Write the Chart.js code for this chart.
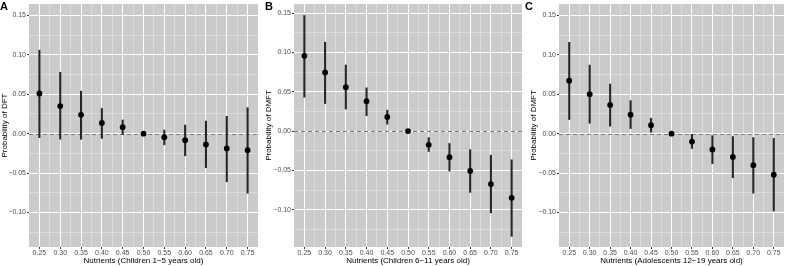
<!DOCTYPE html>
<html><head><meta charset="utf-8">
<script src="https://cdn.jsdelivr.net/npm/chart.js@4.4.1/dist/chart.umd.min.js"></script>
<style>
html,body{margin:0;padding:0;background:#fff;}
body{width:788px;height:266px;position:relative;overflow:hidden;font-family:"Liberation Sans",Arial,sans-serif;}
canvas{position:absolute;top:0;}
.tag{position:absolute;top:0;font:bold 11px "Liberation Sans",Arial,sans-serif;line-height:12px;color:#000;}
</style></head><body>
<canvas id="cA" width="262" height="266" style="left:0"></canvas>
<canvas id="cB" width="262" height="266" style="left:264px"></canvas>
<canvas id="cC" width="259" height="266" style="left:529px"></canvas>
<div class="tag" style="left:0">A</div>
<div class="tag" style="left:265px">B</div>
<div class="tag" style="left:525px">C</div>
<script>
// ---- data ----
const nutrients = [0.25,0.30,0.35,0.40,0.45,0.50,0.55,0.60,0.65,0.70,0.75];
const xTickLabels = [0.25,0.30,0.35,0.40,0.45,0.50,0.55,0.60,0.65,0.70,0.75];
const yTickLabels = [-0.10,-0.05,0.00,0.05,0.10,0.15];

const estA  = [0.051,0.035,0.024,0.0137,0.0083,0,-0.0046,-0.0083,-0.0137,-0.0187,-0.021];
const lowA  = [-0.005,-0.007,-0.007,-0.006,-0.001,0,-0.014,-0.028,-0.043,-0.061,-0.0755];
const highA = [0.106,0.078,0.054,0.032,0.0174,0,0.0046,0.011,0.016,0.022,0.033];

const estB  = [0.0957,0.0745,0.0557,0.0379,0.0179,0,-0.0175,-0.0333,-0.0508,-0.0674,-0.0849];
const lowB  = [0.043,0.035,0.028,0.0196,0.0087,0,-0.026,-0.051,-0.078,-0.104,-0.134];
const highB = [0.147,0.113,0.084,0.055,0.0266,0,-0.0083,-0.0158,-0.0237,-0.0308,-0.0366];

const estC  = [0.0672,0.0502,0.0365,0.0241,0.0108,0,-0.010,-0.020,-0.0295,-0.040,-0.052];
const lowC  = [0.018,0.0133,0.0095,0.0066,0.002,0,-0.0187,-0.038,-0.056,-0.0755,-0.098];
const highC = [0.116,0.087,0.063,0.042,0.0195,0,-0.001,-0.0025,-0.0037,-0.005,-0.006];

// ---- helpers ----
Chart.defaults.font.family = '"Liberation Sans", Arial, sans-serif';

function withMinors(majors, lo, hi){
  const step = majors[1]-majors[0];
  const out = [];
  for (let i=-1;i<majors.length;i++){
    const m = (i<0 ? majors[0]-step : majors[i]);
    const mid = m + step/2;
    if (i>=0 && majors[i]>=lo && majors[i]<=hi) out.push(majors[i]);
    if (mid>lo && mid<hi) out.push(mid);
  }
  return out.sort((a,b)=>a-b);
}
function isMajor(v, majors){ return majors.some(m=>Math.abs(m-v)<1e-9); }
function fmt(v){ return v.toFixed(2).replace('-','\u2212'); }

const panelPlugin = {
  id:'panel',
  beforeDraw(chart){
    const {ctx, chartArea:a} = chart;
    ctx.save();
    ctx.fillStyle = '#cbcbcb';
    ctx.fillRect(a.left, a.top, a.width, a.height);
    ctx.restore();
  },
  beforeDatasetsDraw(chart){
    const {ctx, chartArea:a} = chart;
    const y = Math.round(chart.scales.y.getPixelForValue(0)) + 0.5;
    ctx.save();
    ctx.strokeStyle = '#7a7a7a';
    ctx.lineWidth = 1;
    ctx.setLineDash([4,3]);
    ctx.beginPath(); ctx.moveTo(a.left, y); ctx.lineTo(a.right, y); ctx.stroke();
    ctx.restore();
  }
};

const xMin = 0.225, xMax = 0.775;

function makePanel(id, est, low, high, yMin, yMax, yTitle, xTitle, yW, padRight){
  const xTicksAll = withMinors(xTickLabels, xMin, xMax);
  const yTicksAll = withMinors(yTickLabels, yMin, yMax);
  const gridColor = majors => c => isMajor(c.tick.value, majors) ? '#ffffff' : 'rgba(255,255,255,0.55)';
  const gridWidth = majors => c => isMajor(c.tick.value, majors) ? 1 : 0.6;
  const tickColor = majors => c => isMajor(c.tick.value, majors) ? '#333333' : 'rgba(0,0,0,0)';
  new Chart(document.getElementById(id), {
    type:'bar',
    data:{datasets:[
      {type:'bar', data: nutrients.map((x,i)=>({x:x, y:[low[i], high[i]]})),
       backgroundColor:'#262626', borderWidth:0, barThickness:1.4, order:2},
      {type:'scatter', data: nutrients.map((x,i)=>({x:x, y:est[i]})),
       pointRadius:2.9, pointBackgroundColor:'#000', pointBorderWidth:0, order:1}
    ]},
    options:{
      responsive:false, animation:false, devicePixelRatio:1,
      layout:{padding:{left:0,right:padRight,top:0,bottom:0}},
      plugins:{legend:{display:false}, tooltip:{enabled:false}},
      scales:{
        x:{type:'linear', min:xMin, max:xMax, offset:false,
           afterBuildTicks: s => { s.ticks = xTicksAll.map(v=>({value:v})); },
           afterFit: s => { s.height = 19; s.paddingLeft = 0; s.paddingRight = 0; },
           grid:{offset:false, color:gridColor(xTickLabels), lineWidth:gridWidth(xTickLabels),
                 tickColor:tickColor(xTickLabels), tickLength:2, tickWidth:1, drawTicks:true},
           border:{display:false},
           ticks:{autoSkip:false, maxRotation:0, minRotation:0, padding:0, color:'#4d4d4d',
                  font:{size:7}, callback: v => isMajor(v, xTickLabels) ? fmt(v) : ''},
           title:{display:true, text:xTitle, color:'#000', font:{size:8}, padding:{top:0,bottom:0}}
        },
        y:{type:'linear', min:yMin, max:yMax,
           afterBuildTicks: s => { s.ticks = yTicksAll.map(v=>({value:v})); },
           afterFit: s => { s.width = yW; s.paddingTop = 0; s.paddingBottom = 0; },
           grid:{color:gridColor(yTickLabels), lineWidth:gridWidth(yTickLabels),
                 tickColor:tickColor(yTickLabels), tickLength:2, tickWidth:1},
           border:{display:false},
           ticks:{autoSkip:false, padding:1, color:'#4d4d4d', font:{size:7},
                  callback: v => isMajor(v, yTickLabels) ? fmt(v) : ''},
           title:{display:true, text:yTitle, color:'#000', font:{size:8}, padding:{top:0,bottom:0}}
        }
      }
    },
    plugins:[panelPlugin]
  });
}

makePanel('cA', estA, lowA, highA, -0.1438, 0.1646, 'Probability of DFT', 'Nutrients (Children 1\u22125 years old)', 29, 4);
makePanel('cB', estB, lowB, highB, -0.1475, 0.1616, 'Probability of DMFT', 'Nutrients (Children 6\u221211 years old)', 30, 3);
makePanel('cC', estC, lowC, highC, -0.1438, 0.1646, 'Probability of DMFT', 'Nutrients (Adolescents 12\u221219 years old)', 30, 1);
</script>
</body></html>
